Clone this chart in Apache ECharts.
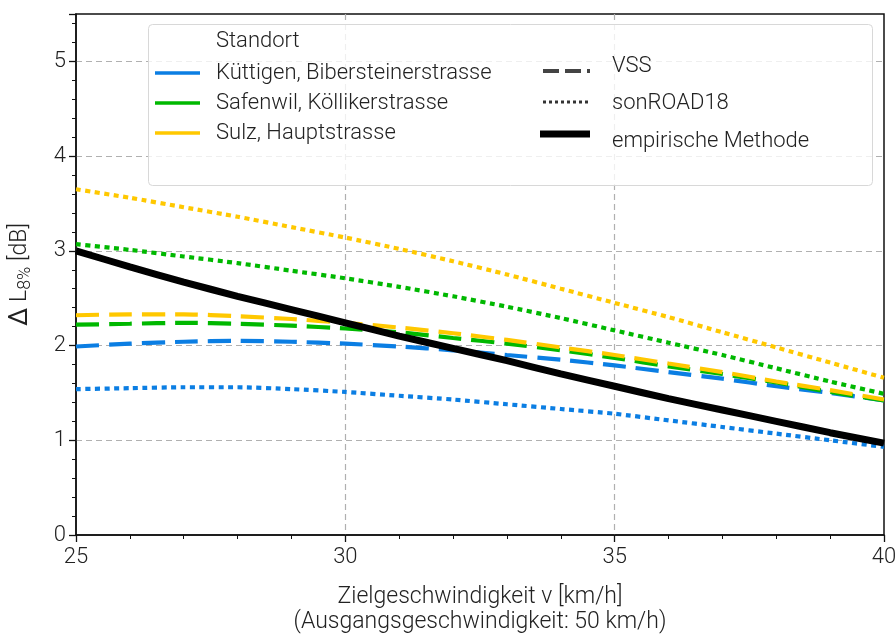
<!DOCTYPE html>
<html>
<head>
<meta charset="utf-8">
<script src="https://cdn.jsdelivr.net/npm/echarts@6/dist/echarts.min.js"></script>
<style>
html,body{margin:0;padding:0;background:#fff;}
#chart{width:896px;height:637px;}
</style>
</head>
<body>
<div id="chart"></div>
<script>
// ---- data ----
const speeds = [25,26,27,28,29,30,31,32,33,34,35,36,37,38,39,40];
const siteNames = ['Küttigen, Bibersteinerstrasse','Safenwil, Köllikerstrasse','Sulz, Hauptstrasse'];
const methodNames = ['VSS','sonROAD18','empirische Methode'];
const legendTitle = 'Standort';
const xTicks = [25,30,35,40];
const yTicks = [0,1,2,3,4,5];

const vssKuettigen  = [1.99,2.02,2.04,2.05,2.04,2.02,1.99,1.95,1.90,1.85,1.79,1.72,1.65,1.57,1.50,1.42];
const vssSafenwil   = [2.22,2.23,2.24,2.23,2.21,2.18,2.14,2.08,2.02,1.95,1.87,1.78,1.70,1.61,1.51,1.42];
const vssSulz       = [2.32,2.33,2.33,2.31,2.28,2.24,2.19,2.13,2.06,1.98,1.90,1.81,1.72,1.62,1.53,1.43];
const sonKuettigen  = [1.54,1.55,1.56,1.56,1.54,1.51,1.47,1.43,1.38,1.33,1.28,1.21,1.14,1.07,1.00,0.93];
const sonSafenwil   = [3.07,3.01,2.94,2.87,2.79,2.71,2.62,2.52,2.41,2.29,2.16,2.03,1.90,1.76,1.62,1.49];
const sonSulz       = [3.65,3.56,3.46,3.36,3.25,3.14,3.02,2.89,2.75,2.60,2.45,2.30,2.14,1.98,1.82,1.66];
const empirical     = [3.00,2.83,2.67,2.52,2.38,2.24,2.10,1.97,1.84,1.70,1.57,1.44,1.32,1.20,1.08,0.97];

// ---- styles ----
const siteColors = ['#0b7ee3','#00b800','#ffc800'];
const FONT = 'Roboto, "DejaVu Sans", sans-serif';
const FW = 300;
const dashPattern = [23,10];
const dotPattern = [5,4.5];

const pairs = arr => speeds.map((v,i)=>[v,arr[i]]);

function lineSeries(name, arr, color, dash, width, z){
  return {
    name: name, type:'line', data: pairs(arr), showSymbol:false, symbol:'none',
    smooth: 0.2, z: z, silent:true,
    lineStyle:{color:color, width:width, type: dash, cap:'butt'}
  };
}

const series = [
  lineSeries('VSS ' + siteNames[0], vssKuettigen, siteColors[0], dashPattern, 4.2, 3),
  lineSeries('VSS ' + siteNames[1], vssSafenwil, siteColors[1], dashPattern, 4.2, 4),
  lineSeries('VSS ' + siteNames[2], vssSulz, siteColors[2], dashPattern, 4.2, 5),
  lineSeries('sonROAD18 ' + siteNames[0], sonKuettigen, siteColors[0], dotPattern, 4.2, 3),
  lineSeries('sonROAD18 ' + siteNames[1], sonSafenwil, siteColors[1], dotPattern, 4.2, 4),
  lineSeries('sonROAD18 ' + siteNames[2], sonSulz, siteColors[2], dotPattern, 4.2, 5),
  lineSeries(methodNames[2], empirical, '#000000', 'solid', 7, 6)
];

// ---- legend (graphic) ----
const txt = (x,y,t) => ({type:'text', x:x, y:y, style:{text:t, font: FW + ' 22px ' + FONT, fill:'#222', textVerticalAlign:'middle'}, z:101});
const hline = (x1,x2,y,color,w,dash) => ({type:'line', shape:{x1:x1,y1:y,x2:x2,y2:y}, style:{stroke:color, lineWidth:w, lineDash:dash, lineCap:'butt'}, z:101});

const legendGraphics = [
  {type:'rect', shape:{x:148.5,y:24.5,width:724,height:161,r:4}, style:{fill:'rgba(255,255,255,0.8)', stroke:'#d8d8d8', lineWidth:1}, z:100},
  txt(216,41,legendTitle),
  hline(155,200,73,siteColors[0],3.5,null), txt(216,73,siteNames[0]),
  hline(155,200,103,siteColors[1],3.5,null), txt(216,103,siteNames[1]),
  hline(155,200,133,siteColors[2],3.5,null), txt(216,133,siteNames[2]),
  hline(543,590,71,'#444',4,[16,6]), txt(612,66,methodNames[0]),
  hline(543,590,102,'#333',3,[3,3]), txt(612,103,methodNames[1]),
  hline(540,590,134,'#000',7,null), txt(612,141,methodNames[2])
];

const chart = echarts.init(document.getElementById('chart'), null, {renderer:'canvas'});
chart.setOption({
  animation:false,
  backgroundColor:'#fff',
  grid:{left:76, right:12, top:14, bottom:102, containLabel:false, outerBoundsMode:'none',
        show:true, borderColor:'#111', borderWidth:1.5, backgroundColor:'transparent'},
  xAxis:{
    type:'value', min:xTicks[0], max:xTicks[xTicks.length-1], interval:5,
    name:'Zielgeschwindigkeit v [km/h]\n(Ausgangsgeschwindigkeit: 50 km/h)',
    nameLocation:'middle', nameGap:50,
    nameTextStyle:{fontFamily:FONT, fontWeight:FW, fontSize:23, color:'#222', lineHeight:25},
    axisLine:{show:true, onZero:false, lineStyle:{color:'#111', width:1.5}},
    axisTick:{show:true, length:7, lineStyle:{color:'#111', width:1.3}},
    minorTick:{show:true, splitNumber:5, length:4, lineStyle:{color:'#111', width:1}},
    axisLabel:{fontFamily:FONT, fontWeight:FW, fontSize:22, color:'#222', margin:11},
    splitLine:{show:true, showMinLine:false, showMaxLine:false, lineStyle:{color:'#b0b0b0', type:[6,4], width:1.2}}
  },
  yAxis:{
    type:'value', min:yTicks[0], max:5.5, interval:1,
    name:'{d|Δ} L{s|8%} [dB]',
    nameLocation:'middle', nameGap:42, nameRotate:90,
    nameTextStyle:{fontFamily:FONT, fontWeight:FW, fontSize:23, color:'#222',
      rich:{d:{fontFamily:FONT, fontSize:26, fontWeight:'normal', color:'#222'},
            s:{fontFamily:FONT, fontWeight:FW, fontSize:18, color:'#222', padding:[9,0,0,0]}}},
    axisLine:{show:true, onZero:false, lineStyle:{color:'#111', width:1.5}},
    axisTick:{show:true, length:7, lineStyle:{color:'#111', width:1.3}},
    minorTick:{show:true, splitNumber:5, length:4, lineStyle:{color:'#111', width:1}},
    axisLabel:{fontFamily:FONT, fontWeight:FW, fontSize:22, color:'#222', margin:10,
      formatter: v => (yTicks.indexOf(v) >= 0 ? String(v) : '')},
    splitLine:{show:true, showMinLine:false, showMaxLine:false, lineStyle:{color:'#b0b0b0', type:[6,4], width:1.2}}
  },
  series: series,
  graphic: legendGraphics
});
</script>
</body>
</html>
